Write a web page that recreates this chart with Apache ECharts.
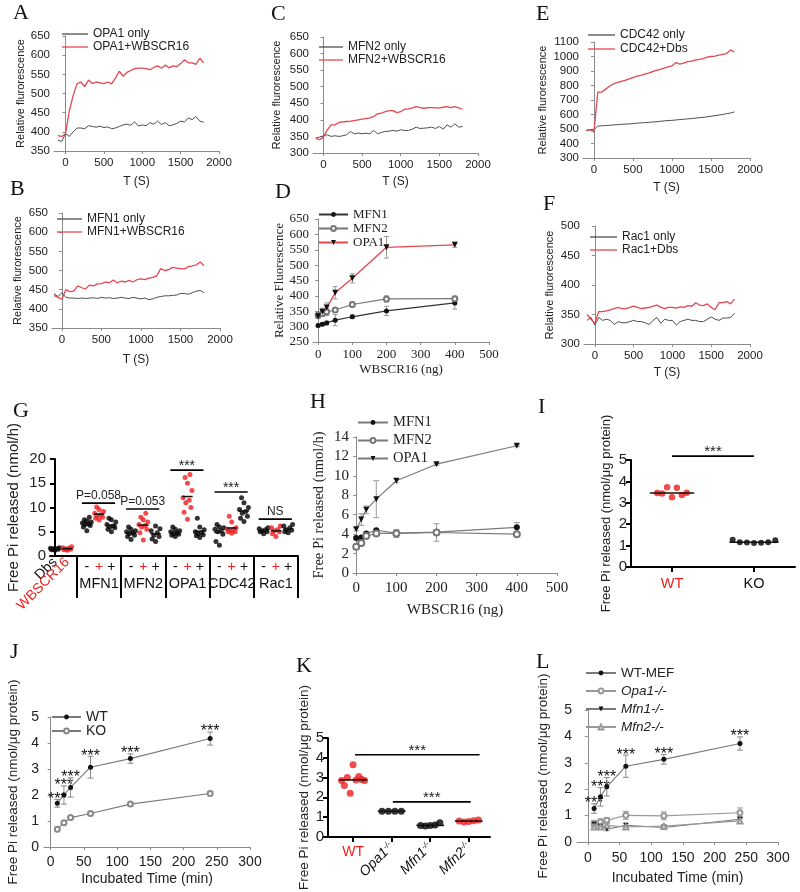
<!DOCTYPE html>
<html><head><meta charset="utf-8">
<script src="https://cdn.jsdelivr.net/npm/echarts@6/dist/echarts.min.js"></script>
<style>
html,body{margin:0;padding:0;background:#fff;width:800px;height:892px;overflow:hidden}
.p{position:absolute;left:0;top:0;width:800px;height:892px}
</style>
</head><body>
<script>
// ---------------- DATA ----------------
const T = [-100,-50,0,50,100,150,200,250,300,350,400,450,500,550,600,650,700,750,800,850,900,950,1000,1050,1100,1150,1200,1250,1300,1350,1400,1450,1500,1550,1600,1650,1700,1750,1800];
const T_TICKS = [0,500,1000,1500,2000];

const A_only = [378,375,395,388,400,410,410,408,416,414,412,415,411,413,408,410,414,418,420,417,426,415,418,416,424,420,428,419,424,416,418,422,428,426,436,432,440,428,425];
const A_plus = [390,388,395,455,495,525,530,518,535,526,530,528,526,530,525,540,558,545,555,560,565,566,566,565,562,568,572,566,574,567,572,570,578,588,580,580,576,592,580];
const B_only = [440,432,442,430,428,428,427,428,427,428,429,427,430,428,429,427,428,430,428,427,430,428,426,428,424,426,430,432,434,434,435,436,440,440,438,442,446,448,442];
const B_plus = [435,430,425,450,445,446,460,455,452,462,460,465,466,470,468,475,468,472,470,474,470,476,478,476,480,482,486,505,500,502,508,506,505,504,510,512,515,522,512];
const C_only = [345,348,352,355,350,352,350,352,355,365,358,360,358,360,358,368,358,362,365,366,368,366,370,368,368,372,378,374,375,376,378,374,380,372,385,378,388,378,380];
const C_plus = [345,340,348,370,385,385,392,394,395,396,398,400,402,404,406,410,418,420,425,428,428,422,425,432,433,436,440,437,435,437,437,436,436,438,440,437,440,436,432];
const E_only = [490,495,495,520,522,524,526,528,530,532,534,535,537,540,542,544,546,548,550,553,556,558,560,562,565,567,570,572,575,578,580,584,588,592,596,600,606,610,618];
const E_plus = [490,495,480,755,755,775,795,812,820,828,835,845,855,865,870,878,885,895,905,912,920,928,935,958,948,955,965,968,975,980,985,995,1000,1002,1010,1015,1020,1045,1032];
const F_only = [340,345,332,345,340,342,340,333,338,336,336,338,340,338,338,336,333,340,345,335,342,340,340,332,338,340,342,340,340,338,338,342,346,342,340,344,344,345,352];
const F_plus = [350,342,335,355,355,356,358,360,362,360,360,362,364,362,360,361,362,364,366,362,360,362,362,361,363,362,365,364,370,366,365,368,362,358,370,370,372,368,376];

const DH_x = [0,12.5,25,50,100,200,400];
const D_mfn1 = [304,308,312,321,332,351,377], D_mfn1_err = [5,5,6,18,6,15,20];
const D_mfn2 = [337,343,348,354,372,390,391], D_mfn2_err = [8,10,12,8,8,10,8];
const D_opa1 = [334,348,362,410,457,558,566], D_opa1_err = [8,12,15,20,15,35,8];

const H_mfn1 = [3.6,3.65,4.07,4.4,4.1,4.2,4.7], H_mfn1_err = [0.1,0.1,0.1,0.1,0.2,0.2,0.5];
const H_mfn2 = [2.7,3.1,3.8,4.07,4.07,4.17,4.0], H_mfn2_err = [0.2,0.3,0.2,0.15,0.4,0.9,0.15];
const H_opa1 = [4.5,5.5,6.5,7.6,9.5,11.2,13.1], H_opa1_err = [0.15,0.6,0.4,1.9,0.2,0.1,0.1];

// G: columns
const G_dbs      = [1.2,1.3,1.4,1.5,1.5,1.6,1.7,1.4];
const G_wbscr16  = [1.2,1.3,1.4,1.5,1.6,1.7,1.9,1.4];
const G_mfn1     = [[5.2,6.0,6.3,6.5,6.6,6.8,7.0,7.2,7.5,8.0],[7.4,7.8,8.0,8.3,8.5,8.8,9.2,9.6,10.1],[5.0,5.5,5.8,6.0,6.2,6.5,7.0,7.5,7.8]];
const G_mfn2     = [[3.4,4.0,4.3,4.6,4.8,5.0,5.2,5.5,6.0],[3.3,4.8,5.5,6.0,6.3,6.5,7.0,7.5,8.0,8.8],[3.0,3.5,4.0,4.3,4.8,5.2,5.6,6.2]];
const G_opa1     = [[4.0,4.3,4.5,4.6,4.8,5.0,5.2,5.5,6.0],[7.6,9.0,10.0,11.0,11.5,12.0,13.5,15.0,16.2,16.8],[3.8,4.2,4.4,4.6,4.8,5.0,5.4,6.0,7.8]];
const G_cdc42    = [[2.2,3.0,4.5,5.0,5.2,5.5,5.8,6.0,6.5],[4.7,5.0,5.0,5.3,5.5,5.5,5.8,7.0,8.2],[7.1,7.8,8.2,8.8,9.2,9.6,10.0,11.0,12.0]];
const G_rac1     = [[4.6,5.0,5.0,5.2,5.4,5.6,5.8],[4.0,4.6,5.0,5.2,5.4,5.8,6.2],[4.8,5.0,5.3,5.4,5.8,6.2,6.5]];
const G_groups   = ['MFN1','MFN2','OPA1','CDC42','Rac1'];
const G_signs    = ['-','+','+'];
const G_annot    = ['P=0.058','P=0.053','***','***','NS'];
const G_annotY   = [10.9, 9.7, 17.7, 13.2, 7.6];

const I_cats = ['WT','KO'];
const I_wt = [3.46,3.44,3.73,3.26,3.70,3.36,3.47];
const I_ko = [1.27,1.16,1.14,1.12,1.13,1.16,1.25];

const JL_time = [10,20,30,60,120,240];
const J_wt = [1.68,2.0,2.29,3.07,3.4,4.17], J_wt_err = [0.15,0.35,0.37,0.42,0.18,0.25];
const J_ko = [0.68,0.93,1.13,1.29,1.65,2.06], J_ko_err = [0.04,0.04,0.05,0.05,0.05,0.07];

const K_cats = ['WT','Opa1','Mfn1','Mfn2'];
const K_wt   = [2.85,2.6,3.0,2.2,3.65,2.88,3.05,2.9,2.85];
const K_opa1 = [1.3,1.3,1.3,1.3];
const K_mfn1 = [0.58,0.55,0.57,0.6,0.72];
const K_mfn2 = [0.8,0.75,0.78,0.82,0.85];

const L_wt   = [1.27,1.71,2.09,2.87,3.13,3.73], L_wt_err = [0.18,0.35,0.35,0.42,0.18,0.25];
const L_opa1 = [0.7,0.76,0.82,1.01,0.99,1.11],  L_opa1_err = [0.12,0.12,0.1,0.15,0.15,0.18];
const L_mfn1 = [0.67,0.6,0.48,0.63,0.55,0.86],  L_mfn1_err = [0.08,0.08,0.05,0.08,0.08,0.1];
const L_mfn2 = [0.57,0.57,0.63,0.57,0.6,0.8],   L_mfn2_err = [0.06,0.06,0.06,0.06,0.06,0.1];

// ---------------- HELPERS ----------------
const SANS = "'Liberation Sans', Arial, sans-serif";
const SERIF = "'Liberation Serif', 'Times New Roman', serif";
const RED = '#e4474e';
const DOTRED = '#f01e1e';
const TXT = '#222';
const plain = v => String(+v);

function mk(option){
  const d = document.createElement('div'); d.className='p'; document.body.appendChild(d);
  const c = echarts.init(d, null, {renderer:'canvas'});
  option.animation = false;
  c.setOption(option);
}
function letter(t, cx, cy){
  return {text:t, left:cx-7, top:cy-12, padding:0, textStyle:{fontFamily:SERIF, fontSize:22, fontWeight:'normal', color:'#111'}};
}
function pairs(xs, ys){ return xs.map((x,i)=>[x, ys[i]]); }
function triples(xs, ys, es){ return xs.map((x,i)=>[x, ys[i], es[i]]); }
function errSeries(data, color, cap, stars){
  return {type:'custom', data:data, z:1, silent:true,
    renderItem:function(params, api){
      const x=api.value(0), y=api.value(1), e=api.value(2);
      const t=api.coord([x,y+e]), b=api.coord([x,y-e]);
      const ch=[
        {type:'line', shape:{x1:t[0],y1:t[1],x2:b[0],y2:b[1]}, style:{stroke:color,lineWidth:1}},
        {type:'line', shape:{x1:t[0]-cap,y1:t[1],x2:t[0]+cap,y2:t[1]}, style:{stroke:color,lineWidth:1}},
        {type:'line', shape:{x1:b[0]-cap,y1:b[1],x2:b[0]+cap,y2:b[1]}, style:{stroke:color,lineWidth:1}}
      ];
      if(stars){ ch.push({type:'text', x:t[0], y:t[1], style:{text:'***', fill:'#111', fontSize:16, fontFamily:SANS, align:'center', verticalAlign:'middle'}}); }
      return {type:'group', children:ch};
    }};
}
function meanSeries(data, hw, color){
  return {type:'custom', data:data, z:3, silent:true,
    renderItem:function(params, api){
      const p=api.coord([api.value(0)-hw, api.value(1)]), q=api.coord([api.value(0)+hw, api.value(1)]);
      return {type:'line', shape:{x1:p[0],y1:p[1],x2:q[0],y2:q[1]}, style:{stroke:color||'#000', lineWidth:1.5}};
    }};
}
function annoSeries(data, texts, fontSize){
  return {type:'custom', data:data, z:3, silent:true,
    renderItem:function(params, api){
      const p=api.coord([api.value(0), api.value(2)]), q=api.coord([api.value(1), api.value(2)]);
      const txt = texts[params.dataIndex];
      const star = txt.indexOf('*')>=0;
      return {type:'group', children:[
        {type:'line', shape:{x1:p[0],y1:p[1],x2:q[0],y2:q[1]}, style:{stroke:'#000', lineWidth:1.6}},
        {type:'text', x:(p[0]+q[0])/2, y:star? p[1]-4 : p[1]-1,
         style:{text:txt, fill:'#222', fontSize: star? fontSize+2 : fontSize, fontFamily:SANS, align:'center', verticalAlign: star?'middle':'bottom'}}
      ]};
    }};
}
function spread(vals, pos, hw){
  const n = vals.length;
  return vals.map((v,i)=>[pos + (n>1 ? (i/(n-1)*2-1)*hw : 0), v]);
}
const JIT = [0,-0.28,0.28,-0.14,0.14,-0.36,0.36,0.0,-0.2,0.2];
function jitter(vals, pos){ return vals.map((v,i)=>[pos + JIT[i%JIT.length], v]); }
function mean(a){ return a.reduce((s,v)=>s+v,0)/a.length; }
function median(a){ const s=a.slice().sort((x,y)=>x-y); const m=Math.floor(s.length/2); return s.length%2? s[m] : (s[m-1]+s[m])/2; }

// ---------------- TOP TIME-SERIES PANELS ----------------
function tsPanel(o){
  const gray='#4d4d4d';
  mk({
    title: letter(o.letter, o.lx, o.ly),
    grid: {left:o.g[0], top:o.g[1], width:o.g[2], height:o.g[3]},
    legend: {left:o.leg[0], top:o.leg[1], orient:'vertical', icon:'rect', itemWidth:o.leg[2], itemHeight:1.3, itemGap:o.leg[3], padding:0,
      textStyle:{fontFamily:SANS, fontSize:12, color:TXT, lineHeight:12}, data:o.names},
    xAxis: {type:'value', min:o.xmin, max:2000, splitLine:{show:false},
      axisLine:{onZero:false, lineStyle:{color:'#8a8a8a', width:1}},
      axisTick:{show:true, customValues:T_TICKS, length:3, lineStyle:{color:'#8a8a8a'}},
      axisLabel:{customValues:T_TICKS, color:TXT, fontSize:11.5, fontFamily:SANS, margin:6, formatter:plain},
      name:'T (S)', nameLocation:'middle', nameGap:o.xg, nameTextStyle:{fontFamily:SANS, fontSize:12, color:TXT}},
    yAxis: {type:'value', min:o.ymin, max:o.ymax, interval:o.yint, splitLine:{show:false},
      axisLine:{show:true, lineStyle:{color:'#8a8a8a', width:1}},
      axisTick:{show:true, length:3, lineStyle:{color:'#8a8a8a'}},
      axisLabel:{color:TXT, fontSize:11.5, fontFamily:SANS, margin:4, formatter:plain},
      name:'Relative flurorescence', nameLocation:'middle', nameGap:o.yg, nameTextStyle:{fontFamily:SANS, fontSize:11, color:TXT}},
    series: [
      {type:'line', name:o.names[0], data:pairs(T,o.only), symbol:'none', lineStyle:{color:gray, width:1}, itemStyle:{color:gray}},
      {type:'line', name:o.names[1], data:pairs(T,o.plus), symbol:'none', lineStyle:{color:RED, width:1.3}, itemStyle:{color:RED}}
    ]
  });
}
tsPanel({letter:'A', lx:20, ly:14, g:[54,36,165,115], leg:[62,28,26,1], xmin:-150, ymin:350, ymax:650, yint:50, xg:25, yg:27,
  names:['OPA1 only','OPA1+WBSCR16'], only:A_only, plus:A_plus});
tsPanel({letter:'B', lx:17, ly:190, g:[52,213,168,115], leg:[57,213,25,1], xmin:-125, ymin:350, ymax:650, yint:50, xg:26, yg:29,
  names:['MFN1 only','MFN1+WBSCR16'], only:B_only, plus:B_plus});
tsPanel({letter:'C', lx:278, ly:15, g:[313,37,165,116], leg:[319,41,24,1], xmin:-135, ymin:300, ymax:650, yint:50, xg:23, yg:31,
  names:['MFN2 only','MFN2+WBSCR16'], only:C_only, plus:C_plus});
tsPanel({letter:'E', lx:543, ly:15, g:[583,42,167,116], leg:[588,29,27,2], xmin:-140, ymin:300, ymax:1100, yint:100, xg:24, yg:35,
  names:['CDC42 only','CDC42+Dbs'], only:E_only, plus:E_plus});
tsPanel({letter:'F', lx:550, ly:205, g:[584,226,166,118], leg:[590,231,27,1], xmin:-140, ymin:300, ymax:500, yint:50, xg:23, yg:29,
  names:['Rac1 only','Rac1+Dbs'], only:F_only, plus:F_plus});

// ---------------- D ----------------
(function(){
  const ax='#8a8a8a', ticks=[0,100,200,300,400,500];
  mk({
    title: letter('D', 282, 193),
    grid:{left:313, top:219, width:176, height:123},
    legend:{left:318, top:208, orient:'vertical', itemWidth:29, itemHeight:6, itemGap:1, padding:0,
      textStyle:{fontFamily:SERIF, fontSize:13, color:TXT}, data:['MFN1','MFN2','OPA1']},
    xAxis:{type:'value', min:-15, max:500, splitLine:{show:false},
      axisLine:{onZero:false, lineStyle:{color:ax}}, axisTick:{customValues:ticks, length:3, lineStyle:{color:ax}},
      axisLabel:{customValues:ticks, fontFamily:SERIF, fontSize:13, color:TXT, margin:6, formatter:plain},
      name:'WBSCR16 (ng)', nameLocation:'middle', nameGap:21, nameTextStyle:{fontFamily:SERIF, fontSize:13, color:TXT}},
    yAxis:{type:'value', min:250, max:650, interval:50, splitLine:{show:false},
      axisLine:{show:true, lineStyle:{color:ax}}, axisTick:{show:true, length:3, lineStyle:{color:ax}},
      axisLabel:{fontFamily:SERIF, fontSize:13, color:TXT, margin:4},
      name:'Relative Fluorescence', nameLocation:'middle', nameGap:26, nameTextStyle:{fontFamily:SERIF, fontSize:13, color:TXT}},
    series:[
      errSeries(triples(DH_x,D_mfn1,D_mfn1_err),'#999',2.5),
      errSeries(triples(DH_x,D_mfn2,D_mfn2_err),'#999',2.5),
      errSeries(triples(DH_x,D_opa1,D_opa1_err),'#999',2.5),
      {type:'line', name:'MFN1', data:pairs(DH_x,D_mfn1), symbol:'circle', symbolSize:5, lineStyle:{color:'#333',width:1.2}, itemStyle:{color:'#111'}},
      {type:'line', name:'MFN2', data:pairs(DH_x,D_mfn2), symbol:'emptyCircle', symbolSize:5, lineStyle:{color:'#777',width:1.2}, itemStyle:{color:'#777', borderColor:'#777'}},
      {type:'line', name:'OPA1', data:pairs(DH_x,D_opa1), symbol:'triangle', symbolRotate:180, symbolSize:6, lineStyle:{color:RED,width:1.3}, itemStyle:{color:'#111'}}
    ]
  });
})();

// ---------------- G ----------------
(function(){
  const groupStart = [2.6, 6.2, 9.8, 13.4, 17.0];
  const groupData = [G_mfn1, G_mfn2, G_opa1, G_cdc42, G_rac1];
  const seps = [1.8, 5.4, 9.0, 12.6, 16.2, 19.8];
  const colPos = [], colSign = {};
  groupStart.forEach(s=>{ for(let k=0;k<3;k++){ const p=+(s+k).toFixed(1); colPos.push(p); colSign[p.toFixed(1)] = k; } });
  const centers = groupStart.map(s=>+(s+1).toFixed(1));
  const series = [];
  const meanData = [];
  series.push({type:'scatter', data:jitter(G_dbs,0), symbolSize:5, itemStyle:{color:'#000'}});
  series.push({type:'scatter', data:jitter(G_wbscr16,1), symbolSize:5, itemStyle:{color:DOTRED}});
  meanData.push([0, mean(G_dbs)], [1, mean(G_wbscr16)]);
  groupData.forEach((g,gi)=>{
    g.forEach((vals,k)=>{
      const pos = groupStart[gi]+k;
      series.push({type:'scatter', data:jitter(vals,pos), symbolSize:5, itemStyle:{color: k===1? DOTRED : '#000'}});
      meanData.push([pos, mean(vals)]);
    });
  });
  series.push(meanSeries(meanData, 0.42, '#111'));
  series.push(annoSeries(groupStart.map((s,i)=>[s-0.4, s+2.3, G_annotY[i]]), G_annot, 12));
  const blk = {color:'#000', width:2};
  const rotAxis = (val, fmt) => ({type:'value', min:-0.4, max:19.8, position:'bottom', splitLine:{show:false},
        axisLine:{show:false}, axisTick:{show:false},
        axisLabel:{customValues:[val], rotate:45, margin:4, fontFamily:SANS, fontSize:14, color:'#111', hideOverlap:false,
          formatter:fmt, rich:{r:{color:DOTRED, fontSize:14, fontFamily:SANS}}}});
  mk({
    title: letter('G', 20, 412),
    grid:{left:50, top:459, width:248, height:97},
    xAxis:[
      {type:'value', min:-0.4, max:19.8, splitLine:{show:false},
        axisLine:{onZero:false, lineStyle:blk},
        axisTick:{customValues:seps, length:42, lineStyle:blk},
        axisLabel:{customValues:colPos, margin:4, fontFamily:SANS, fontSize:14, color:'#111',
          formatter:function(v){ const k=colSign[(+v).toFixed(1)]; return k===1? '{r|+}' : G_signs[k]; },
          rich:{r:{color:DOTRED, fontSize:14, fontFamily:SANS}}}},
      {type:'value', min:-0.4, max:19.8, position:'bottom', offset:14, splitLine:{show:false},
        axisLine:{show:false}, axisTick:{show:false},
        axisLabel:{customValues:centers, margin:6, fontFamily:SANS, fontSize:14.5, color:'#111',
          formatter:function(v){ return G_groups[centers.indexOf(+(+v).toFixed(1))]; }}},
      rotAxis(0, function(){ return 'Dbs'; }),
      rotAxis(1, function(){ return '{r|WBSCR16}'; })
    ],
    yAxis:{type:'value', min:0, max:20, interval:5, splitLine:{show:false},
      axisLine:{show:true, lineStyle:blk}, axisTick:{show:true, length:5, lineStyle:blk},
      axisLabel:{fontFamily:SANS, fontSize:15, color:'#222', margin:4},
      name:'Free Pi released (nmol/h)', nameLocation:'middle', nameGap:29, nameTextStyle:{fontFamily:SANS, fontSize:15, color:'#222'}},
    series: series
  });
})();

// ---------------- H ----------------
(function(){
  const ax='#8a8a8a', ticks=[0,100,200,300,400,500];
  const lc='#7a7a7a';
  mk({
    title: letter('H', 317, 403),
    grid:{left:353, top:437, width:204, height:136},
    legend:{left:357, top:415, orient:'vertical', itemWidth:30, itemHeight:6, itemGap:3, padding:0,
      textStyle:{fontFamily:SERIF, fontSize:14.5, color:TXT}, data:['MFN1','MFN2','OPA1']},
    xAxis:{type:'value', min:-8, max:500, splitLine:{show:false},
      axisLine:{onZero:false, lineStyle:{color:ax}}, axisTick:{customValues:ticks, length:3, lineStyle:{color:ax}},
      axisLabel:{customValues:ticks, fontFamily:SERIF, fontSize:15, color:TXT, margin:8, formatter:plain},
      name:'WBSCR16 (ng)', nameLocation:'middle', nameGap:30, nameTextStyle:{fontFamily:SERIF, fontSize:15, color:TXT}},
    yAxis:{type:'value', min:0, max:14, interval:2, splitLine:{show:false},
      axisLine:{show:true, lineStyle:{color:ax}}, axisTick:{show:true, length:3, lineStyle:{color:ax}},
      axisLabel:{fontFamily:SERIF, fontSize:15, color:TXT, margin:4},
      name:'Free Pi released (nmol/h)', nameLocation:'middle', nameGap:26, nameTextStyle:{fontFamily:SERIF, fontSize:14.5, color:TXT}},
    series:[
      errSeries(triples(DH_x,H_mfn1,H_mfn1_err),'#999',3),
      errSeries(triples(DH_x,H_mfn2,H_mfn2_err),'#999',3),
      errSeries(triples(DH_x,H_opa1,H_opa1_err),'#999',3),
      {type:'line', name:'MFN1', data:pairs(DH_x,H_mfn1), symbol:'circle', symbolSize:6, lineStyle:{color:lc,width:1.2}, itemStyle:{color:'#111'}},
      {type:'line', name:'MFN2', data:pairs(DH_x,H_mfn2), symbol:'emptyCircle', symbolSize:6, lineStyle:{color:lc,width:1.2}, itemStyle:{color:'#777', borderColor:'#777'}},
      {type:'line', name:'OPA1', data:pairs(DH_x,H_opa1), symbol:'triangle', symbolRotate:180, symbolSize:6, lineStyle:{color:lc,width:1.2}, itemStyle:{color:'#111'}}
    ]
  });
})();

// ---------------- I ----------------
(function(){
  const blk={color:'#000', width:2};
  mk({
    title: letter('I', 545, 408),
    grid:{left:631, top:460, width:164, height:107},
    xAxis:{type:'value', min:0.5, max:2.5, splitLine:{show:false},
      axisLine:{onZero:false, lineStyle:blk}, axisTick:{customValues:[1,2], length:5, lineStyle:blk},
      axisLabel:{customValues:[1,2], margin:9, fontFamily:SANS, fontSize:14.5, color:'#111',
        formatter:function(v){ return +v===1? '{r|'+I_cats[0]+'}' : I_cats[1]; }, rich:{r:{color:DOTRED, fontSize:14.5, fontFamily:SANS}}}},
    yAxis:{type:'value', min:0, max:5, interval:1, splitLine:{show:false},
      axisLine:{show:true, lineStyle:blk}, axisTick:{show:true, length:5, lineStyle:blk},
      axisLabel:{fontFamily:SANS, fontSize:15, color:'#222', margin:4},
      name:'Free Pi released (nmol/μg protein)', nameLocation:'middle', nameGap:18, nameTextStyle:{fontFamily:SANS, fontSize:13, color:'#222'}},
    series:[
      {type:'scatter', data:spread(I_wt,1,0.18), symbolSize:6.5, itemStyle:{color:DOTRED}},
      {type:'scatter', data:spread(I_ko,2,0.26), symbolSize:6, itemStyle:{color:'#000'}},
      meanSeries([[1, median(I_wt)]], 0.27, '#111'),
      meanSeries([[2, median(I_ko)]], 0.3, '#111'),
      annoSeries([[1.0, 2.0, 5.18]], ['***'], 13)
    ]
  });
})();

// ---------------- J ----------------
(function(){
  const ax='#8a8a8a', ticks=[0,50,100,150,200,250,300], lc='#7a7a7a';
  mk({
    title: letter('J', 17, 653),
    grid:{left:44, top:717, width:206, height:130},
    legend:{left:51, top:710, orient:'vertical', itemWidth:29, itemHeight:6, itemGap:0, padding:0,
      textStyle:{fontFamily:SANS, fontSize:14, color:TXT}, data:['WT','KO']},
    xAxis:{type:'value', min:-10, max:300, splitLine:{show:false},
      axisLine:{onZero:false, lineStyle:{color:ax}}, axisTick:{customValues:ticks, length:3, lineStyle:{color:ax}},
      axisLabel:{customValues:ticks, fontFamily:SANS, fontSize:14, color:TXT, margin:8, formatter:plain},
      name:'Incubated Time (min)', nameLocation:'middle', nameGap:25, nameTextStyle:{fontFamily:SANS, fontSize:14, color:TXT}},
    yAxis:{type:'value', min:0, max:5, interval:1, splitLine:{show:false},
      axisLine:{show:true, lineStyle:{color:ax}}, axisTick:{show:true, length:3, lineStyle:{color:ax}},
      axisLabel:{fontFamily:SANS, fontSize:14, color:TXT, margin:5},
      name:'Free Pi released (nmol/μg protein)', nameLocation:'middle', nameGap:24, nameTextStyle:{fontFamily:SANS, fontSize:13.5, color:TXT}},
    series:[
      errSeries(triples(JL_time,J_wt,J_wt_err),'#888',3, true),
      errSeries(triples(JL_time,J_ko,J_ko_err),'#888',3),
      {type:'line', name:'WT', data:pairs(JL_time,J_wt), symbol:'circle', symbolSize:5, lineStyle:{color:lc,width:1.1}, itemStyle:{color:'#111'}},
      {type:'line', name:'KO', data:pairs(JL_time,J_ko), symbol:'emptyCircle', symbolSize:5, lineStyle:{color:lc,width:1.1}, itemStyle:{color:'#888', borderColor:'#888'}}
    ]
  });
})();

// ---------------- K ----------------
(function(){
  const blk={color:'#000', width:2};
  mk({
    title: letter('K', 303, 667),
    grid:{left:328, top:738, width:162, height:109},
    xAxis:[
      {type:'value', min:0.35, max:4.55, splitLine:{show:false},
        axisLine:{onZero:false, lineStyle:blk}, axisTick:{customValues:[1,2,3,4], length:5, lineStyle:blk},
        axisLabel:{customValues:[1], margin:8, fontFamily:SANS, fontSize:14, color:DOTRED, formatter:function(){ return K_cats[0]; }}},
      {type:'value', min:0.35, max:4.55, position:'bottom', splitLine:{show:false},
        axisLine:{show:false}, axisTick:{show:false},
        axisLabel:{customValues:[2,3,4], rotate:45, margin:8, fontFamily:SANS, fontSize:14, color:'#111',
          formatter:function(v){ const i=Math.round(+v)-1; return '{i|'+K_cats[i]+'}{s|-/-}'; },
          rich:{i:{fontStyle:'italic', fontSize:14, fontFamily:SANS, color:'#111'},
                s:{fontStyle:'italic', fontSize:8, fontFamily:SANS, color:'#111', verticalAlign:'top'}}}}
    ],
    yAxis:{type:'value', min:0, max:5, interval:1, splitLine:{show:false},
      axisLine:{show:true, lineStyle:blk}, axisTick:{show:true, length:5, lineStyle:blk},
      axisLabel:{fontFamily:SANS, fontSize:15, color:'#222', margin:4},
      name:'Free Pi released (nmol/μg protein)', nameLocation:'middle', nameGap:14, nameTextStyle:{fontFamily:SANS, fontSize:13.5, color:'#222'}},
    series:[
      {type:'scatter', data:spread(K_wt,1,0.3), symbolSize:7, itemStyle:{color:DOTRED}},
      {type:'scatter', data:spread(K_opa1,2,0.25), symbolSize:7, itemStyle:{color:'#000'}},
      {type:'scatter', data:spread(K_mfn1,3,0.25), symbolSize:7, itemStyle:{color:'#000'}},
      {type:'scatter', data:spread(K_mfn2,4,0.25), symbolSize:7, itemStyle:{color:DOTRED}},
      meanSeries([[1,median(K_wt)],[2,median(K_opa1)],[3,median(K_mfn1)],[4,median(K_mfn2)]], 0.36, '#111'),
      annoSeries([[1.05, 4.28, 4.15],[2.03, 4.05, 1.77]], ['***','***'], 13)
    ]
  });
})();

// ---------------- L ----------------
(function(){
  const ax='#8a8a8a', ticks=[0,50,100,150,200,250,300], lc='#7a7a7a';
  mk({
    title: letter('L', 543, 663),
    grid:{left:577, top:710, width:201, height:132},
    legend:{left:585, top:666, orient:'vertical', itemWidth:30, itemHeight:6, itemGap:4, padding:0,
      textStyle:{fontFamily:SANS, fontSize:13.5, color:TXT},
      data:[{name:'WT-MEF'},{name:'Opa1-/-', textStyle:{fontStyle:'italic'}},{name:'Mfn1-/-', textStyle:{fontStyle:'italic'}},{name:'Mfn2-/-', textStyle:{fontStyle:'italic'}}]},
    xAxis:{type:'value', min:-17, max:300, splitLine:{show:false},
      axisLine:{onZero:false, lineStyle:{color:ax}}, axisTick:{customValues:ticks, length:3, lineStyle:{color:ax}},
      axisLabel:{customValues:ticks, fontFamily:SANS, fontSize:14, color:TXT, margin:9, formatter:plain},
      name:'Incubated Time (min)', nameLocation:'middle', nameGap:29, nameTextStyle:{fontFamily:SANS, fontSize:14, color:TXT}},
    yAxis:{type:'value', min:0, max:5, interval:1, splitLine:{show:false},
      axisLine:{show:true, lineStyle:{color:ax}}, axisTick:{show:true, length:3, lineStyle:{color:ax}},
      axisLabel:{fontFamily:SANS, fontSize:14, color:TXT, margin:5},
      name:'Free Pi released (nmol/μg protein)', nameLocation:'middle', nameGap:27, nameTextStyle:{fontFamily:SANS, fontSize:13.5, color:TXT}},
    series:[
      errSeries(triples(JL_time,L_wt,L_wt_err),'#888',3, true),
      errSeries(triples(JL_time,L_opa1,L_opa1_err),'#999',3),
      errSeries(triples(JL_time,L_mfn1,L_mfn1_err),'#999',3),
      errSeries(triples(JL_time,L_mfn2,L_mfn2_err),'#999',3),
      {type:'line', name:'WT-MEF', data:pairs(JL_time,L_wt), symbol:'circle', symbolSize:5, lineStyle:{color:lc,width:1.1}, itemStyle:{color:'#111'}},
      {type:'line', name:'Opa1-/-', data:pairs(JL_time,L_opa1), symbol:'emptyCircle', symbolSize:5, lineStyle:{color:'#999',width:1.1}, itemStyle:{color:'#999', borderColor:'#999'}},
      {type:'line', name:'Mfn1-/-', data:pairs(JL_time,L_mfn1), symbol:'triangle', symbolRotate:180, symbolSize:5, lineStyle:{color:lc,width:1.1}, itemStyle:{color:'#111'}},
      {type:'line', name:'Mfn2-/-', data:pairs(JL_time,L_mfn2), symbol:'emptyTriangle', symbolSize:5, lineStyle:{color:'#999',width:1.1}, itemStyle:{color:'#999', borderColor:'#999'}}
    ]
  });
})();
</script>
</body></html>
